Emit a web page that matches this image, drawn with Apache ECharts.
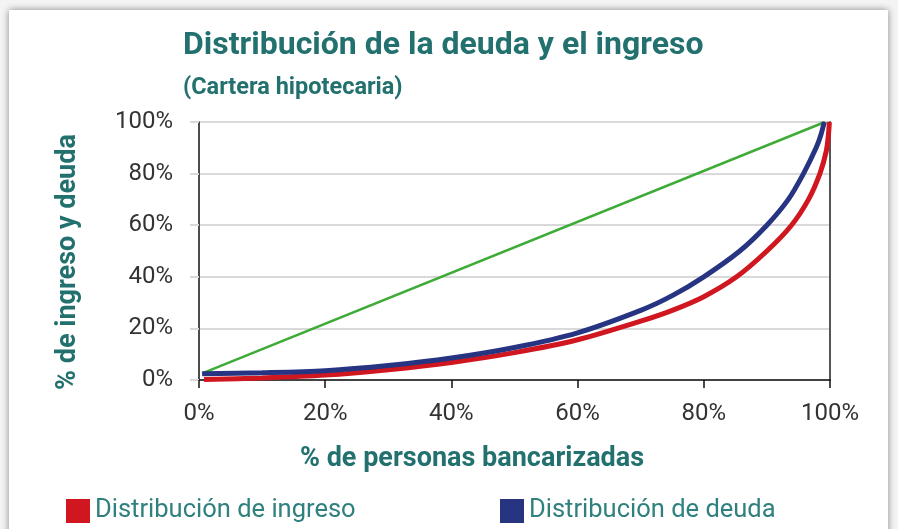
<!DOCTYPE html>
<html>
<head>
<meta charset="utf-8">
<script src="https://cdn.jsdelivr.net/npm/echarts@6/dist/echarts.min.js"></script>
<style>
  html, body { margin: 0; padding: 0; background: #f4f4f4; overflow: hidden; }
  #card { position: absolute; left: 9px; top: 10px; width: 879px; height: 540px; background: #fff;
          box-shadow: 0 0 7px rgba(0,0,0,0.45); }
  #chart { position: absolute; left: 0; top: 0; width: 898px; height: 529px; }
</style>
</head>
<body>
<div id="card"></div>
<div id="chart"></div>
<script>
  'use strict'

  /* data */
  var xTicks = [0, 20, 40, 60, 80, 100];
  var yTicks = [0, 20, 40, 60, 80, 100];

  var ingresoX = [0.8, 10, 20, 30, 40, 50, 60, 70, 75, 80, 85.2, 90, 93.9, 96.6, 98.4, 99.4, 99.75, 99.9];
  var ingresoY = [0.2, 0.8, 1.9, 4, 6.8, 10.6, 15.6, 22.8, 27, 32.3, 40, 50, 60, 70, 80, 88.6, 95, 100];

  var deudaX = [0.5, 10, 20, 30, 40, 50, 60, 70, 75, 80, 85.7, 90, 93.4, 95.8, 97.8, 98.55, 99.1];
  var deudaY = [2.4, 2.8, 3.6, 5.6, 8.5, 12.6, 18.3, 27, 32.7, 40, 50, 60, 70, 80, 90, 95, 100];

  var igualdadX = [0.5, 99.2];
  var igualdadY = [2.6, 100];

  function pairs(xs, ys) {
    return xs.map(function (x, i) { return [x, ys[i]]; });
  }

  var teal = '#23716f';
  var font = 'Roboto';
  var chart = echarts.init(document.getElementById('chart'));

  chart.setOption({
    animation: false,
    backgroundColor: 'transparent',
    title: {
      text: 'Distribución de la deuda y el ingreso',
      subtext: '(Cartera hipotecaria)',
      left: 178,
      top: 25,
      itemGap: 14,
      textStyle: { color: teal, fontSize: 32, fontWeight: 'bold', fontFamily: font },
      subtextStyle: { color: teal, fontSize: 23.5, fontWeight: 'bold', fontFamily: font }
    },
    legend: [{
      data: ['Distribución de ingreso'],
      left: 61, top: 493,
      icon: 'rect', itemWidth: 24, itemHeight: 24,
      textStyle: { color: '#2f807e', fontSize: 25.5, fontFamily: font }
    }, {
      data: ['Distribución de deuda'],
      left: 495, top: 493,
      icon: 'rect', itemWidth: 24, itemHeight: 24,
      textStyle: { color: '#2f807e', fontSize: 25.5, fontFamily: font }
    }],
    graphic: [{
      type: 'text', left: 300, top: 446,
      style: { text: '% de personas bancarizadas', fill: teal, fontSize: 27, fontWeight: 'bold', fontFamily: font }
    }, {
      type: 'text', x: 68, y: 262, rotation: Math.PI / 2,
      style: { text: '% de ingreso y deuda', fill: teal, fontSize: 27, fontWeight: 'bold', fontFamily: font,
               align: 'center', verticalAlign: 'middle' }
    }],
    grid: { left: 199, right: 68, top: 122, bottom: 149 },
    xAxis: {
      type: 'value', min: xTicks[0], max: xTicks[xTicks.length - 1], interval: 20,
      axisLine: { lineStyle: { color: '#111', width: 1.5 } },
      axisTick: { show: true, length: 8, lineStyle: { color: '#111', width: 1.5 } },
      axisLabel: { formatter: '{value}%', color: '#333', fontSize: 24, margin: 22, fontFamily: font },
      splitLine: { show: false }
    },
    yAxis: [{
      type: 'value', min: yTicks[0], max: yTicks[yTicks.length - 1], interval: 20,
      axisLine: { show: true, lineStyle: { color: '#111', width: 1.5 } },
      axisTick: { show: true, length: 9, lineStyle: { color: '#d9d9d9', width: 2 } },
      axisLabel: { formatter: '{value}%', color: '#333', fontSize: 24, margin: 26, fontFamily: font },
      splitLine: { show: true, lineStyle: { color: '#d9d9d9', width: 2 } }
    }, {
      type: 'value', min: 0, max: 100, position: 'right',
      axisLine: { show: true, lineStyle: { color: '#555', width: 2 } },
      axisTick: { show: false }, axisLabel: { show: false }, splitLine: { show: false }
    }],
    series: [{
      name: 'Igualdad',
      type: 'line', data: pairs(igualdadX, igualdadY),
      symbol: 'none', lineStyle: { color: '#3dab36', width: 2.5 }, z: 1
    }, {
      name: 'Distribución de ingreso',
      type: 'line', smooth: 0.3, data: pairs(ingresoX, ingresoY),
      symbol: 'none', color: '#d0161f', lineStyle: { color: '#d0161f', width: 5 }, z: 2
    }, {
      name: 'Distribución de deuda',
      type: 'line', smooth: 0.3, data: pairs(deudaX, deudaY),
      symbol: 'none', color: '#263482', lineStyle: { color: '#263482', width: 5 }, z: 3
    }]
  });
</script>
</body>
</html>
